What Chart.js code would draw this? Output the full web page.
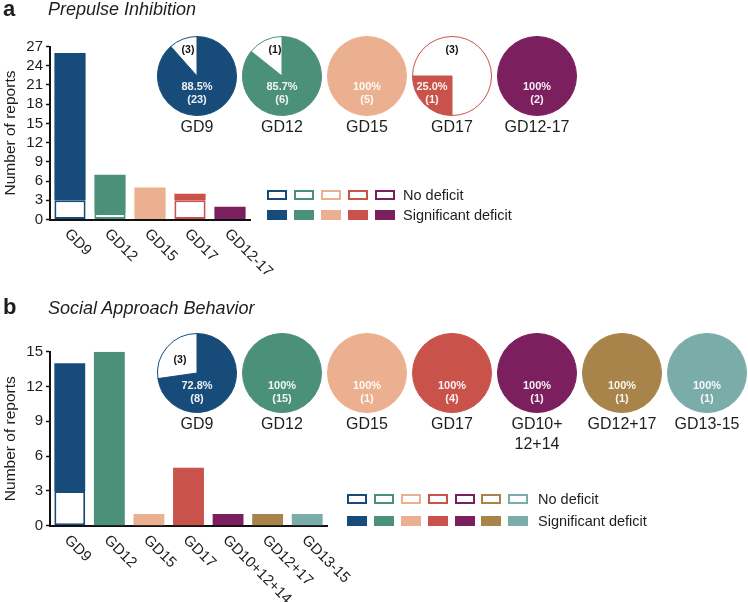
<!DOCTYPE html>
<html>
<head>
<meta charset="utf-8">
<script src="https://cdn.jsdelivr.net/npm/chart.js@4.4.1/dist/chart.umd.min.js"></script>
<style>
  body { margin: 0; width: 748px; height: 602px; position: relative; overflow: hidden; background: #fff;
         font-family: "Liberation Sans", Arial, sans-serif; color: #1e1e1e; }
  canvas, .abs { position: absolute; }
  .letter { font-weight: bold; font-size: 22px; line-height: 24px; }
  .title { font-style: italic; font-size: 18px; line-height: 20px; }
  .legtext { font-size: 14.5px; line-height: 16px; white-space: nowrap; }
  .sw { width: 20px; height: 10px; box-sizing: border-box; }
  .abs { z-index: 5; }
</style>
</head>
<body>

<div class="abs letter" style="left:3px;top:-3px">a</div>
<div class="abs title" style="left:48px;top:-1px">Prepulse Inhibition</div>
<div class="abs letter" style="left:3px;top:295px">b</div>
<div class="abs title" style="left:48px;top:298px">Social Approach Behavior</div>

<canvas id="barA" width="285" height="292" style="left:0;top:0"></canvas>
<canvas id="barB" width="360" height="302" style="left:0;top:300px"></canvas>

<script>
// ---- panel a: prepulse inhibition ----
const groupsA = ['GD9', 'GD12', 'GD15', 'GD17', 'GD12-17'];
const noDeficitA = [3, 1, 0, 3, 0];
const deficitA = [23, 6, 5, 1, 2];
const percentA = ['88.5%', '85.7%', '100%', '25.0%', '100%'];

// ---- panel b: social approach behavior ----
const groupsB = ['GD9', 'GD12', 'GD15', 'GD17', 'GD10+12+14', 'GD12+17', 'GD13-15'];
const barNoDeficitB = [3, 0, 0, 0, 0, 0, 0];
const barDeficitB = [11, 15, 1, 5, 1, 1, 1];
const pieNoDeficitB = [3, 0, 0, 0, 0, 0, 0];
const pieDeficitB = [8, 15, 1, 4, 1, 1, 1];
const percentB = ['72.8%', '100%', '100%', '100%', '100%', '100%', '100%'];
const pieNamesB = [['GD9'], ['GD12'], ['GD15'], ['GD17'], ['GD10+', '12+14'], ['GD12+17'], ['GD13-15']];

const yTicksA = { max: 27, step: 3 };
const yTicksB = { max: 15, step: 3 };

const colorsA = ['#174b79', '#4b9079', '#ebb08f', '#c9524b', '#7c1f5f'];
const colorsB = ['#174b79', '#4b9079', '#ebb08f', '#c9524b', '#7c1f5f', '#a9844a', '#7aacaa'];

const FONT = '"Liberation Sans", Arial, sans-serif';
Chart.defaults.font.family = FONT;
Chart.defaults.color = '#1e1e1e';

// rotated category labels (slanting down to the right)
const xLabels = {
  id: 'xLabels',
  afterDraw(chart) {
    const { ctx, chartArea, scales: { x } } = chart;
    ctx.save();
    ctx.font = '15px ' + FONT;
    ctx.fillStyle = '#1e1e1e';
    ctx.textAlign = 'left';
    ctx.textBaseline = 'middle';
    chart.data.labels.forEach((lab, i) => {
      const px = x.getPixelForValue(i);
      ctx.save();
      ctx.translate(px - 3, chartArea.bottom + 12);
      ctx.rotate(Math.PI / 4);
      ctx.fillText(lab, 0, 0);
      ctx.restore();
    });
    ctx.restore();
  }
};

function makeBars(id, labels, noDef, def, colors, yt, lay) {
  new Chart(document.getElementById(id), {
    type: 'bar',
    data: {
      labels: labels,
      datasets: [
        { label: 'No deficit', data: noDef, backgroundColor: '#fff', borderColor: colors,
          borderWidth: noDef.map(v => v ? 2 : 0), borderSkipped: false },
        { label: 'Significant deficit', data: def, backgroundColor: colors, borderWidth: 0 }
      ]
    },
    options: {
      responsive: false,
      animation: false,
      layout: { padding: { top: lay.top, right: lay.right, left: 0, bottom: 0 } },
      plugins: { legend: { display: false }, tooltip: { enabled: false } },
      datasets: { bar: { categoryPercentage: 1, barPercentage: 0.78 } },
      scales: {
        x: {
          stacked: true,
          grid: { display: false },
          border: { color: '#111', width: 2 },
          ticks: { display: false },
          afterFit: s => { s.height = lay.xh; }
        },
        y: {
          stacked: true, min: 0, max: yt.max,
          ticks: { stepSize: yt.step, autoSkip: false, font: { size: 15 }, color: '#1e1e1e', padding: 3 },
          grid: { drawOnChartArea: false, tickLength: 4, color: '#111', tickWidth: 1.5 },
          border: { color: '#111', width: 2 },
          title: { display: true, text: 'Number of reports', font: { size: 15.5 }, color: '#1e1e1e', padding: 1 },
          afterFit: s => { s.width = 50; }
        }
      }
    },
    plugins: [xLabels]
  });
}

makeBars('barA', groupsA, noDeficitA, deficitA, colorsA, yTicksA, { top: 46.5, right: 35, xh: 72.5 });
makeBars('barB', groupsB, barNoDeficitB, barDeficitB, colorsB, yTicksB, { top: 51.7, right: 33, xh: 76.3 });

// text inside / under each pie
const pieText = {
  id: 'pieText',
  afterDraw(chart, args, o) {
    const { ctx } = chart;
    const arc = chart.getDatasetMeta(0).data[0];
    const cx = arc.x, cy = arc.y;
    ctx.save();
    ctx.textAlign = 'center';
    ctx.textBaseline = 'middle';
    ctx.font = 'bold 11px ' + FONT;
    ctx.fillStyle = 'rgba(255,255,255,0.92)';
    ctx.fillText(o.pct, cx + o.main[0], cy + o.main[1]);
    ctx.fillText('(' + o.def + ')', cx + o.main[0], cy + o.main[1] + 13);
    if (o.no) {
      ctx.fillStyle = '#111';
      ctx.font = 'bold 10.5px ' + FONT;
      ctx.fillText('(' + o.no + ')', cx + o.noPos[0], cy + o.noPos[1]);
    }
    ctx.font = '16px ' + FONT;
    ctx.fillStyle = '#1e1e1e';
    o.name.forEach((ln, k) => ctx.fillText(ln, cx, cy + 52 + k * 20));
    ctx.restore();
  }
};

function makePie(def, no, color, pct, name, cx, cy, extra) {
  const c = document.createElement('canvas');
  c.width = 110; c.height = 140;
  c.style.left = (cx - 55) + 'px';
  c.style.top = (cy - 42) + 'px';
  document.body.appendChild(c);
  new Chart(c, {
    type: 'pie',
    data: {
      datasets: [{
        data: [def, no],
        backgroundColor: [color, '#fff'],
        borderColor: color,
        borderWidth: [def ? 1 : 0, no ? 1 : 0]
      }]
    },
    options: {
      responsive: false,
      animation: false,
      rotation: extra.rotation || 0,
      layout: { padding: { left: 15, right: 15, top: 2, bottom: 58 } },
      plugins: {
        legend: { display: false }, tooltip: { enabled: false },
        pieText: { pct: pct, def: def, no: no, name: name, main: extra.main, noPos: extra.noPos }
      }
    },
    plugins: [pieText]
  });
}

const extraA = [
  { main: [0, 11], noPos: [-9, -26] },
  { main: [0, 11], noPos: [-7, -26] },
  { main: [0, 11] },
  { main: [-20, 11], noPos: [0, -26], rotation: 180 },
  { main: [0, 11] }
];
groupsA.forEach((g, i) =>
  makePie(deficitA[i], noDeficitA[i], colorsA[i], percentA[i], [g], 196.5 + 85 * i, 76, extraA[i]));

groupsB.forEach((g, i) =>
  makePie(pieDeficitB[i], pieNoDeficitB[i], colorsB[i], percentB[i], pieNamesB[i], 196.5 + 85 * i, 373,
    i === 0 ? { main: [0, 13], noPos: [-17, -13] } : { main: [0, 13] }));

// legends (swatches in the series colours)
function makeLegend(colors, x0, y1, y2, tx) {
  colors.forEach((col, i) => {
    const a = document.createElement('div');
    a.className = 'abs sw';
    a.style.cssText = `left:${x0 + 26.8 * i}px;top:${y1}px;border:2px solid ${col};background:#fff`;
    document.body.appendChild(a);
    const b = document.createElement('div');
    b.className = 'abs sw';
    b.style.cssText = `left:${x0 + 26.8 * i}px;top:${y2}px;background:${col}`;
    document.body.appendChild(b);
  });
  [['No deficit', y1], ['Significant deficit', y2]].forEach(([t, y]) => {
    const d = document.createElement('div');
    d.className = 'abs legtext';
    d.textContent = t;
    d.style.left = tx + 'px';
    d.style.top = (y - 3) + 'px';
    document.body.appendChild(d);
  });
}
makeLegend(colorsA, 267.3, 189.5, 209.5, 403);
makeLegend(colorsB, 347.3, 493.5, 515.5, 538);
</script>
</body>
</html>
